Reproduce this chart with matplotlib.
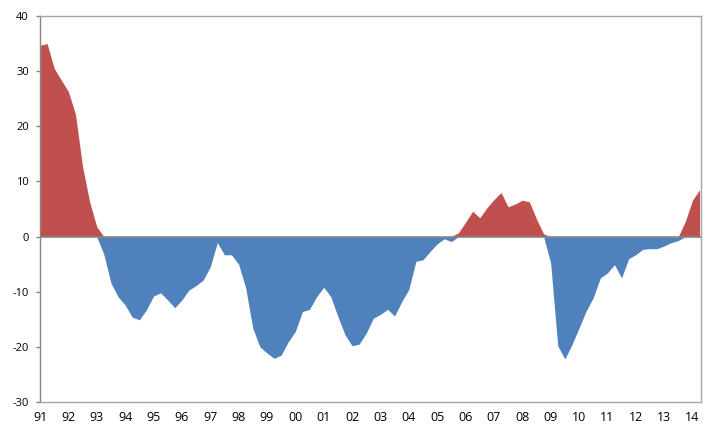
import numpy as np
import matplotlib.pyplot as plt

# quarterly values, 1991Q1 .. 2014Q2
values = [34.7, 35.0, 30.5, 28.4, 26.3, 22.2, 12.7, 6.3, 1.8, -3.2,
          -8.4, -10.9, -12.4, -14.6, -15.1, -13.3, -10.8, -10.2, -11.5, -12.9,
          -11.5, -9.7, -8.9, -7.9, -5.5, -1.1, -3.3, -3.3, -5.0, -9.3,
          -16.6, -20.0, -21.1, -22.1, -21.5, -19.1, -17.2, -13.6, -13.2, -10.9,
          -9.2, -10.9, -14.5, -17.8, -19.8, -19.5, -17.5, -14.8, -14.1, -13.2,
          -14.4, -11.8, -9.6, -4.5, -4.2, -2.7, -1.3, -0.4, -0.9, 0.7,
          2.6, 4.6, 3.4, 5.2, 6.7, 8.0, 5.4, 5.9, 6.6, 6.3,
          3.2, 0.5, -4.8, -19.8, -22.2, -19.6, -16.6, -13.5, -11.1, -7.5,
          -6.6, -5.1, -7.5, -4.0, -3.3, -2.3, -2.2, -2.2, -1.7, -1.1,
          -0.7, 2.8, 6.6, 8.5]
year_labels = ["91", "92", "93", "94", "95", "96", "97", "98", "99", "00", "01", "02",
               "03", "04", "05", "06", "07", "08", "09", "10", "11", "12", "13", "14"]

v = np.array(values)
x = np.arange(len(v))
pos = np.where(v > 0, v, 0)   # excel-style split into two series
neg = np.where(v < 0, v, 0)

red = "#C0504D"
blue = "#4F81BD"
grey = "#868686"

plt.rcParams["font.family"] = ["Open Sans", "DejaVu Sans"]
plt.rcParams["axes.unicode_minus"] = False

fig = plt.figure(figsize=(7.12, 4.26), dpi=100)
ax = fig.add_axes([40 / 712, 24 / 426, 661 / 712, 386 / 426])

ax.fill_between(x, 0, pos, color=red, lw=0)
ax.fill_between(x, neg, 0, color=blue, lw=0)
ax.axhline(0, color=grey, lw=1.2, zorder=3)

ax.set_xlim(0, 93.2)
ax.set_ylim(-30, 40)
ax.set_yticks(range(-30, 41, 10))
ax.set_xticks(range(0, len(v), 4))
ax.set_xticklabels(year_labels)

for s in ax.spines.values():
    s.set_color("#A6A6A6")
    s.set_linewidth(1)
ax.spines["left"].set_color(grey)

ax.tick_params(axis="y", length=3, width=1, color=grey, labelsize=8, pad=5)
ax.tick_params(axis="x", length=0, labelsize=9, pad=6.5)

fig.savefig("out.png", dpi=100)
